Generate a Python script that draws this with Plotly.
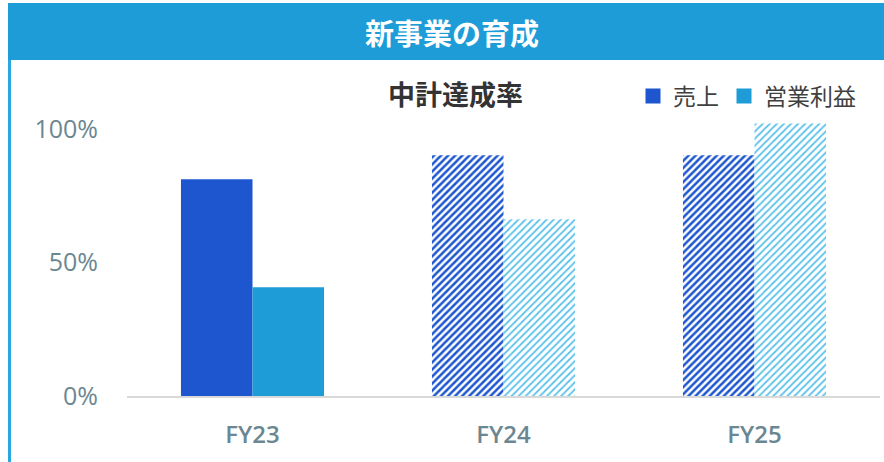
import plotly.graph_objects as go

categories = ["FY23", "FY24", "FY25"]
sales = [0.813, 0.903, 0.903]
profit = [0.408, 0.663, 1.022]
series_names = ["売上", "営業利益"]
header_title = "新事業の育成"
chart_title = "中計達成率"

W, H = 884, 462
ML, MR, MT, MB = 127, 4, 116, 66
PW, PH = W - ML - MR, H - MT - MB

def px(x):
    return (x - ML) / PW

def py(y):
    return (H - MB - y) / PH

SALES_C = "#1D56CF"
PROF_C = "#1E9CD7"
PROF_LIGHT = "#5CC2EA"
TICK_C = "#6B8791"
JP = "Noto Sans CJK JP"

fig = go.Figure()
fig.add_trace(go.Bar(
    x=categories, y=sales, name=series_names[0], showlegend=False,
    marker=dict(color=SALES_C, line=dict(width=0),
                pattern=dict(shape=["", "/", "/"], fgcolor=SALES_C, bgcolor="white",
                             size=5, solidity=0.5, fgopacity=1, fillmode="overlay")),
))
fig.add_trace(go.Bar(
    x=categories, y=profit, name=series_names[1], showlegend=False,
    marker=dict(color=PROF_C, line=dict(width=0),
                pattern=dict(shape=["", "/", "/"], fgcolor=PROF_LIGHT, bgcolor="white",
                             size=5, solidity=0.35, fgopacity=1, fillmode="overlay")),
))
# legend entries (square keys)
for nm, col in zip(series_names, [SALES_C, PROF_C]):
    fig.add_trace(go.Scatter(x=[None], y=[None], mode="markers", name=nm,
                             marker=dict(symbol="square", size=15, color=col)))

shapes = [
    dict(type="rect", xref="paper", yref="paper", x0=px(8), x1=px(884), y0=py(3), y1=py(60),
         fillcolor=PROF_C, line=dict(width=0), layer="below"),
    dict(type="rect", xref="paper", yref="paper", x0=px(8), x1=px(11), y0=py(60), y1=py(462),
         fillcolor="#29A8E0", line=dict(width=0), layer="below"),
]

annotations = [
    dict(text=f"<b>{header_title}</b>", xref="paper", yref="paper", x=px(452), y=py(32),
         xanchor="center", yanchor="middle", showarrow=False,
         font=dict(family=JP, size=29, color="white")),
    dict(text=f"<b>{chart_title}</b>", xref="paper", yref="paper", x=px(455), y=py(93),
         xanchor="center", yanchor="middle", showarrow=False,
         font=dict(family=JP, size=27, color="#333333")),
]

fig.update_layout(
    width=W, height=H,
    margin=dict(l=ML, r=MR, t=MT, b=MB),
    paper_bgcolor="white", plot_bgcolor="white",
    barmode="group", bargap=0.43, bargroupgap=0,
    shapes=shapes, annotations=annotations,
    showlegend=True,
    legend=dict(orientation="h", x=px(633), y=py(96), xanchor="left", yanchor="middle",
                font=dict(family=JP, size=23, color="#404040"),
                bgcolor="rgba(0,0,0,0)", itemclick=False, itemdoubleclick=False),
    xaxis=dict(showline=True, linecolor="#D9D9D9", linewidth=2, showgrid=False,
               ticks="", ticklabelstandoff=16,
               tickfont=dict(family="Open Sans", size=24, color=TICK_C, weight=600)),
    yaxis=dict(range=[0, 1.05], tickvals=[0, 0.5, 1.0], tickformat=".0%",
               showgrid=False, zeroline=False, showline=False, ticks="",
               ticklabelstandoff=28,
               tickfont=dict(family="Open Sans", size=25, color=TICK_C)),
)

fig.write_html("out.html", config={"displayModeBar": False},
               post_script="document.body.style.margin='0';document.body.style.overflow='hidden';")
